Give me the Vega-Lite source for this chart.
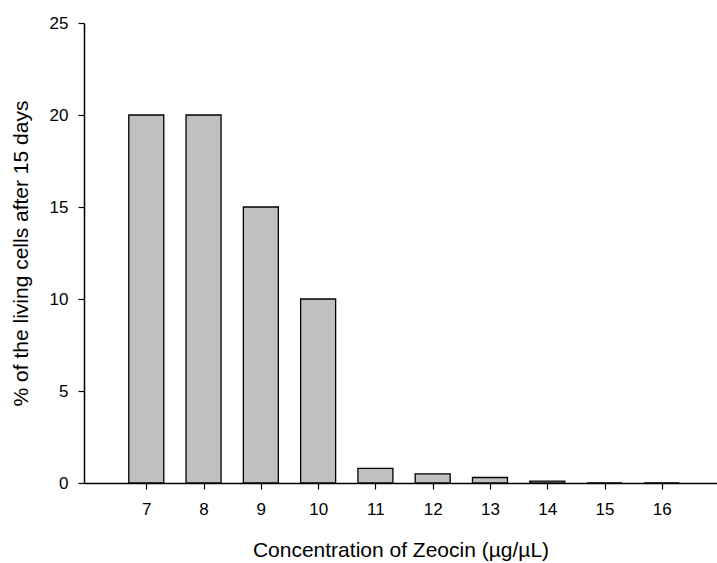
{
  "$schema": "https://vega.github.io/schema/vega-lite/v6.json",
  "autosize": "none",
  "width": 633,
  "height": 460,
  "padding": {"left": 84, "top": 23, "right": 0, "bottom": 80},
  "background": "white",
  "config": {
    "view": {"stroke": null},
    "font": "Liberation Sans",
    "axis": {"grid": false, "domainColor": "black", "tickColor": "black", "labelColor": "black", "titleColor": "black", "labelFont": "Liberation Sans", "titleFont": "Liberation Sans", "titleFontWeight": "normal"}
  },
  "data": {
    "values": [
      {"conc": 7, "pct": 20},
      {"conc": 8, "pct": 20},
      {"conc": 9, "pct": 15},
      {"conc": 10, "pct": 10},
      {"conc": 11, "pct": 0.8},
      {"conc": 12, "pct": 0.5},
      {"conc": 13, "pct": 0.3},
      {"conc": 14, "pct": 0.1},
      {"conc": 15, "pct": 0},
      {"conc": 16, "pct": 0}
    ]
  },
  "mark": {"type": "bar", "width": 35, "fill": "#c0c0c0", "stroke": "black", "strokeWidth": 1.3},
  "encoding": {
    "x": {
      "field": "conc", "type": "quantitative",
      "scale": {"domain": [6, 16.876], "nice": false, "zero": false},
      "axis": {"values": [7, 8, 9, 10, 11, 12, 13, 14, 15, 16], "title": "Concentration of Zeocin (µg/µL)", "labelFontSize": 17, "titleFontSize": 21, "tickSize": 6, "labelPadding": 12, "titlePadding": 22, "domainWidth": 1.7, "tickWidth": 1.2}
    },
    "y": {
      "field": "pct", "type": "quantitative",
      "scale": {"domain": [0, 25], "nice": false},
      "axis": {"values": [0, 5, 10, 15, 20, 25], "title": "% of the living cells after 15 days", "labelFontSize": 17, "titleFontSize": 21, "tickSize": 6, "labelPadding": 10, "titlePadding": 18, "domainWidth": 1.5, "tickWidth": 1.2}
    }
  }
}
